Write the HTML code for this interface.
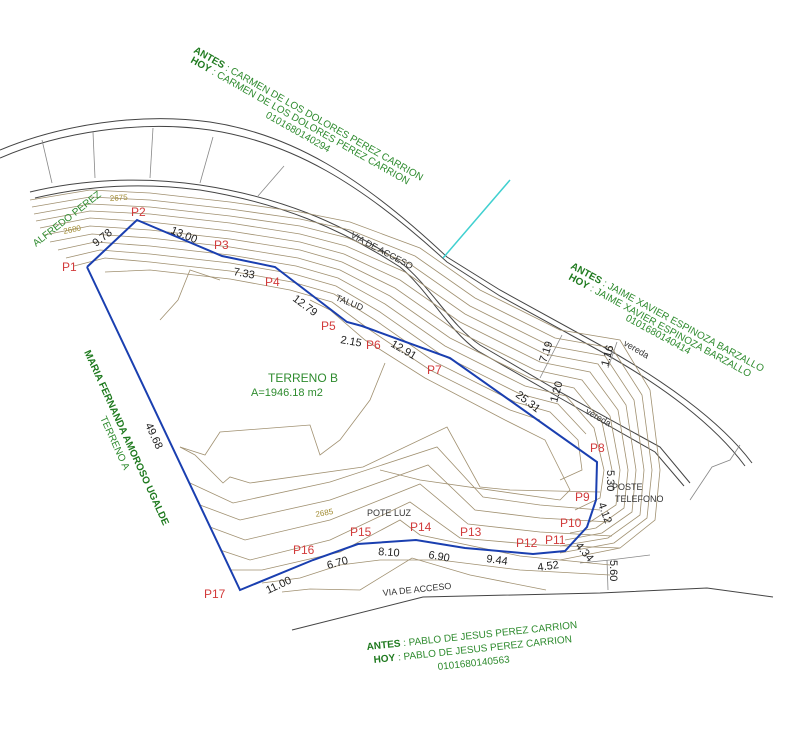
<!DOCTYPE html>
<html><head><meta charset="utf-8"><style>
html,body{margin:0;padding:0;background:#fff}
svg{display:block}
text{font-family:"Liberation Sans",sans-serif}
.g{fill:#2e8b2e;font-size:10px}
.gb{fill:#1f7a1f;font-weight:bold;font-size:10px}
.r{fill:#d23a3a;font-size:12px}
.d{fill:#222;font-size:11px}
.k{fill:#333;font-size:9px}
.y{fill:#a08a30;font-size:8px}
</style></head><body>
<svg width="795" height="749" viewBox="0 0 795 749" xmlns="http://www.w3.org/2000/svg">
<g fill="none" stroke="#444" stroke-width="1">
<path d="M0,150 C60,125 140,112 210,122 C290,134 360,175 447,257 L500,290 L600,345 C660,378 720,420 752,463"/>
<path d="M0,158 C60,132 140,120 210,130 C290,142 360,182 447,262 L500,296 L600,351 C660,384 714,424 745,466"/>
<path d="M30,192 C80,180 140,176 200,185 C280,197 340,222 400,262 C430,285 450,325 480,345 L560,392 L660,447 L690,483"/>
<path d="M35,198 C85,186 140,182 200,190 C280,203 340,228 400,267 C428,290 448,330 478,351 L560,398 L655,452 L684,486"/>
<path d="M292,630 L423,597 L600,593 L707,588 L773,597"/>
</g>
<g fill="none" stroke="#888" stroke-width="0.8">
<path d="M42,140 L52,183"/><path d="M93,132 L95,178"/><path d="M153,128 L150,178"/><path d="M213,137 L200,183"/><path d="M284,166 L258,196"/>
<path d="M562,335 L540,378"/><path d="M617,342 L608,368"/>
<path d="M607,560 L608,590"/><path d="M580,563 L610,560 L650,555"/>
<path d="M690,500 L712,467 L730,460 L740,445"/>
</g>
<g fill="none" stroke="#a09070" stroke-width="0.8">
<path d="M30,200 L90,190 L150,193 L230,202 L300,212 L350,222 L420,248 L480,290 L560,330 L620,340 L650,390 L660,470 L655,520 L620,548 L560,560"/>
<path d="M32,207 L90,197 L150,200 L230,209 L300,219 L350,230 L415,256 L475,298 L555,338 L612,348 L642,395 L652,470 L647,518 L614,543 L560,553"/>
<path d="M34,214 L90,204 L150,207 L230,216 L300,226 L348,238 L410,264 L470,306 L550,346 L605,356 L634,400 L644,470 L640,515 L608,538 L560,546"/>
<path d="M36,221 L90,211 L150,214 L230,223 L300,234 L346,246 L405,272 L465,314 L545,354 L598,364 L626,405 L636,470 L632,512 L602,533 L565,540"/>
<path d="M40,228 L90,218 L150,222 L230,231 L300,242 L344,254 L400,280 L460,322 L540,362 L590,372 L618,410 L628,470 L624,508 L596,528 L570,533"/>
<path d="M44,235 L90,226 L150,230 L230,239 L300,250 L342,262 L395,288 L455,330 L535,370 L582,380 L610,416 L620,470 L616,505 L590,522"/>
<path d="M50,242 L92,234 L150,238 L230,247 L298,258 L340,270 L390,296 L450,338 L530,378 L574,388 L602,422 L612,470"/>
<path d="M58,250 L95,242 L150,246 L230,255 L296,266 L338,278 L385,304 L445,346 L525,386 L566,396 L594,428 L604,470 L600,498 L575,510"/>
<path d="M66,258 L100,250 L150,254 L230,263 L294,274 L336,286 L380,312 L440,354 L520,394 L558,404 L586,434"/>
<path d="M74,266 L105,258 L150,262 L230,271 L292,282 L334,294 L375,320 L435,362 L515,402 L550,412 L578,440 L582,470 L560,480"/>
<path d="M105,272 L150,270 L230,279 L290,290 L332,302 L370,330 L430,370 L510,410 L540,420"/>
<path d="M310,300 L330,310 L365,340 L425,378 L505,420 L545,440 L570,490 L560,500 L420,480 L380,470"/>
<path d="M220,280 L190,270 L178,300 L160,320"/>
<path d="M385,363 L370,400 L340,440 L320,455 L310,425 L220,432 L205,455 L180,447"/>
<path d="M180,447 L195,455 L223,483 L230,477 L250,483 L363,467 L447,427 L480,487 L510,490 L600,492"/>
<path d="M190,483 L233,503 L330,482 L437,447 L483,497 L540,505 L600,510"/>
<path d="M200,505 L240,520 L330,500 L428,465 L475,510 L540,518 L610,522"/>
<path d="M210,527 L245,540 L330,520 L420,484 L468,524 L540,532 L612,536"/>
<path d="M220,550 L250,560 L330,540 L410,502 L460,538 L540,545 L620,548"/>
<path d="M230,570 L262,570 L340,552 L400,520 L420,535 L520,556 L610,565"/>
<path d="M262,583 L300,578 L340,565 L380,560 L440,560 L520,570 L610,575"/>
<path d="M282,592 L310,589 L360,590 L412,558 L470,575 L546,590"/>
</g>
<path d="M510,180 L443,258" stroke="#40d0d0" stroke-width="1.5" fill="none"/>
<polyline fill="none" stroke="#1a3fb0" stroke-width="2" points="87,267 137,220 222,256 275,267 347,322 362,326 450,358 597,462 596,500 587,527 565,551 533,554 465,548 416,540 358,544 313,560 240,590 87,267"/>
<text class="r" x="62" y="271">P1</text>
<text class="r" x="131" y="216">P2</text>
<text class="r" x="214" y="249">P3</text>
<text class="r" x="265" y="286">P4</text>
<text class="r" x="321" y="330">P5</text>
<text class="r" x="366" y="349">P6</text>
<text class="r" x="427" y="374">P7</text>
<text class="r" x="590" y="452">P8</text>
<text class="r" x="575" y="501">P9</text>
<text class="r" x="560" y="527">P10</text>
<text class="r" x="545" y="544">P11</text>
<text class="r" x="516" y="547">P12</text>
<text class="r" x="460" y="536">P13</text>
<text class="r" x="410" y="531">P14</text>
<text class="r" x="350" y="536">P15</text>
<text class="r" x="293" y="554">P16</text>
<text class="r" x="204" y="598">P17</text>
<text class="d" transform="translate(96,247) rotate(-38)">9.78</text>
<text class="d" transform="translate(170,233) rotate(22)">13.00</text>
<text class="d" transform="translate(233,275) rotate(10)">7.33</text>
<text class="d" transform="translate(292,300) rotate(37)">12.79</text>
<text class="d" transform="translate(340,343) rotate(10)">2.15</text>
<text class="d" transform="translate(390,346) rotate(30)">12.91</text>
<text class="d" transform="translate(515,396) rotate(38)">25.31</text>
<text class="d" transform="translate(607,470) rotate(90)">5.30</text>
<text class="d" transform="translate(598,504) rotate(70)">4.12</text>
<text class="d" transform="translate(575,546) rotate(50)">4.34</text>
<text class="d" transform="translate(538,571) rotate(-8)">4.52</text>
<text class="d" transform="translate(486,562) rotate(8)">9.44</text>
<text class="d" transform="translate(428,558) rotate(10)">6.90</text>
<text class="d" transform="translate(378,555) rotate(4)">8.10</text>
<text class="d" transform="translate(328,569) rotate(-15)">6.70</text>
<text class="d" transform="translate(268,594) rotate(-25)">11.00</text>
<text class="d" transform="translate(145,425) rotate(65)">49.68</text>
<text class="d" transform="translate(546,363) rotate(-72)">7.19</text>
<text class="d" transform="translate(608,367) rotate(-75)">1.16</text>
<text class="d" transform="translate(557,403) rotate(-75)">1.20</text>
<text class="d" transform="translate(610,560) rotate(90)">5.60</text>
<text class="k" transform="translate(623,345) rotate(30)">vereda</text>
<text class="k" transform="translate(585,413) rotate(30)">vereda</text>
<text class="k" transform="translate(350,237) rotate(28)">VIA DE ACCESO</text>
<text class="k" transform="translate(335,300) rotate(22)">TALUD</text>
<text class="k" transform="translate(383,596) rotate(-6)">VIA DE ACCESO</text>
<text class="k" x="367" y="516">POTE LUZ</text>
<text class="k" x="612" y="490">POSTE</text>
<text class="k" x="615" y="502">TELEFONO</text>
<text class="y" transform="translate(110,201) rotate(-4)">2675</text>
<text class="y" transform="translate(64,234) rotate(-12)">2680</text>
<text class="y" transform="translate(316,517) rotate(-10)">2685</text>
<text fill="#2e8b2e" font-size="12" x="268" y="382">TERRENO B</text>
<text fill="#2e8b2e" font-size="11" x="251" y="396">A=1946.18 m2</text>
<text class="g" transform="translate(36,247) rotate(-38)">ALFREDO PEREZ</text>
<g transform="translate(193,52) rotate(29.5)">
<text class="g"><tspan class="gb">ANTES</tspan> : CARMEN DE LOS DOLORES PEREZ CARRION</text>
</g>
<g transform="translate(190,62) rotate(29.5)">
<text class="g"><tspan class="gb">HOY</tspan> : CARMEN DE LOS DOLORES PEREZ CARRION</text>
</g>
<text class="g" font-size="9" transform="translate(265,117) rotate(29.5)">0101680140294</text>
<g transform="translate(570,268) rotate(28.5)">
<text class="g"><tspan class="gb">ANTES</tspan> : JAIME XAVIER ESPINOZA BARZALLO</text>
</g>
<g transform="translate(568,279) rotate(28.5)">
<text class="g"><tspan class="gb">HOY</tspan> : JAIME XAVIER ESPINOZA BARZALLO</text>
</g>
<text class="g" font-size="9" transform="translate(625,320) rotate(28.5)">0101680140414</text>
<text class="gb" transform="translate(84,352) rotate(65.5)">MARIA FERNANDA AMOROSO UGALDE</text>
<text class="g" transform="translate(100,418) rotate(65.5)">TERRENO A</text>
<g transform="translate(367,650) rotate(-6)">
<text class="g"><tspan class="gb">ANTES</tspan> : PABLO DE JESUS PEREZ CARRION</text>
</g>
<g transform="translate(374,663) rotate(-6)">
<text class="g"><tspan class="gb">HOY</tspan> : PABLO DE JESUS PEREZ CARRION</text>
</g>
<text class="g" font-size="9" transform="translate(438,670) rotate(-6)">0101680140563</text>
</svg>
</body></html>
